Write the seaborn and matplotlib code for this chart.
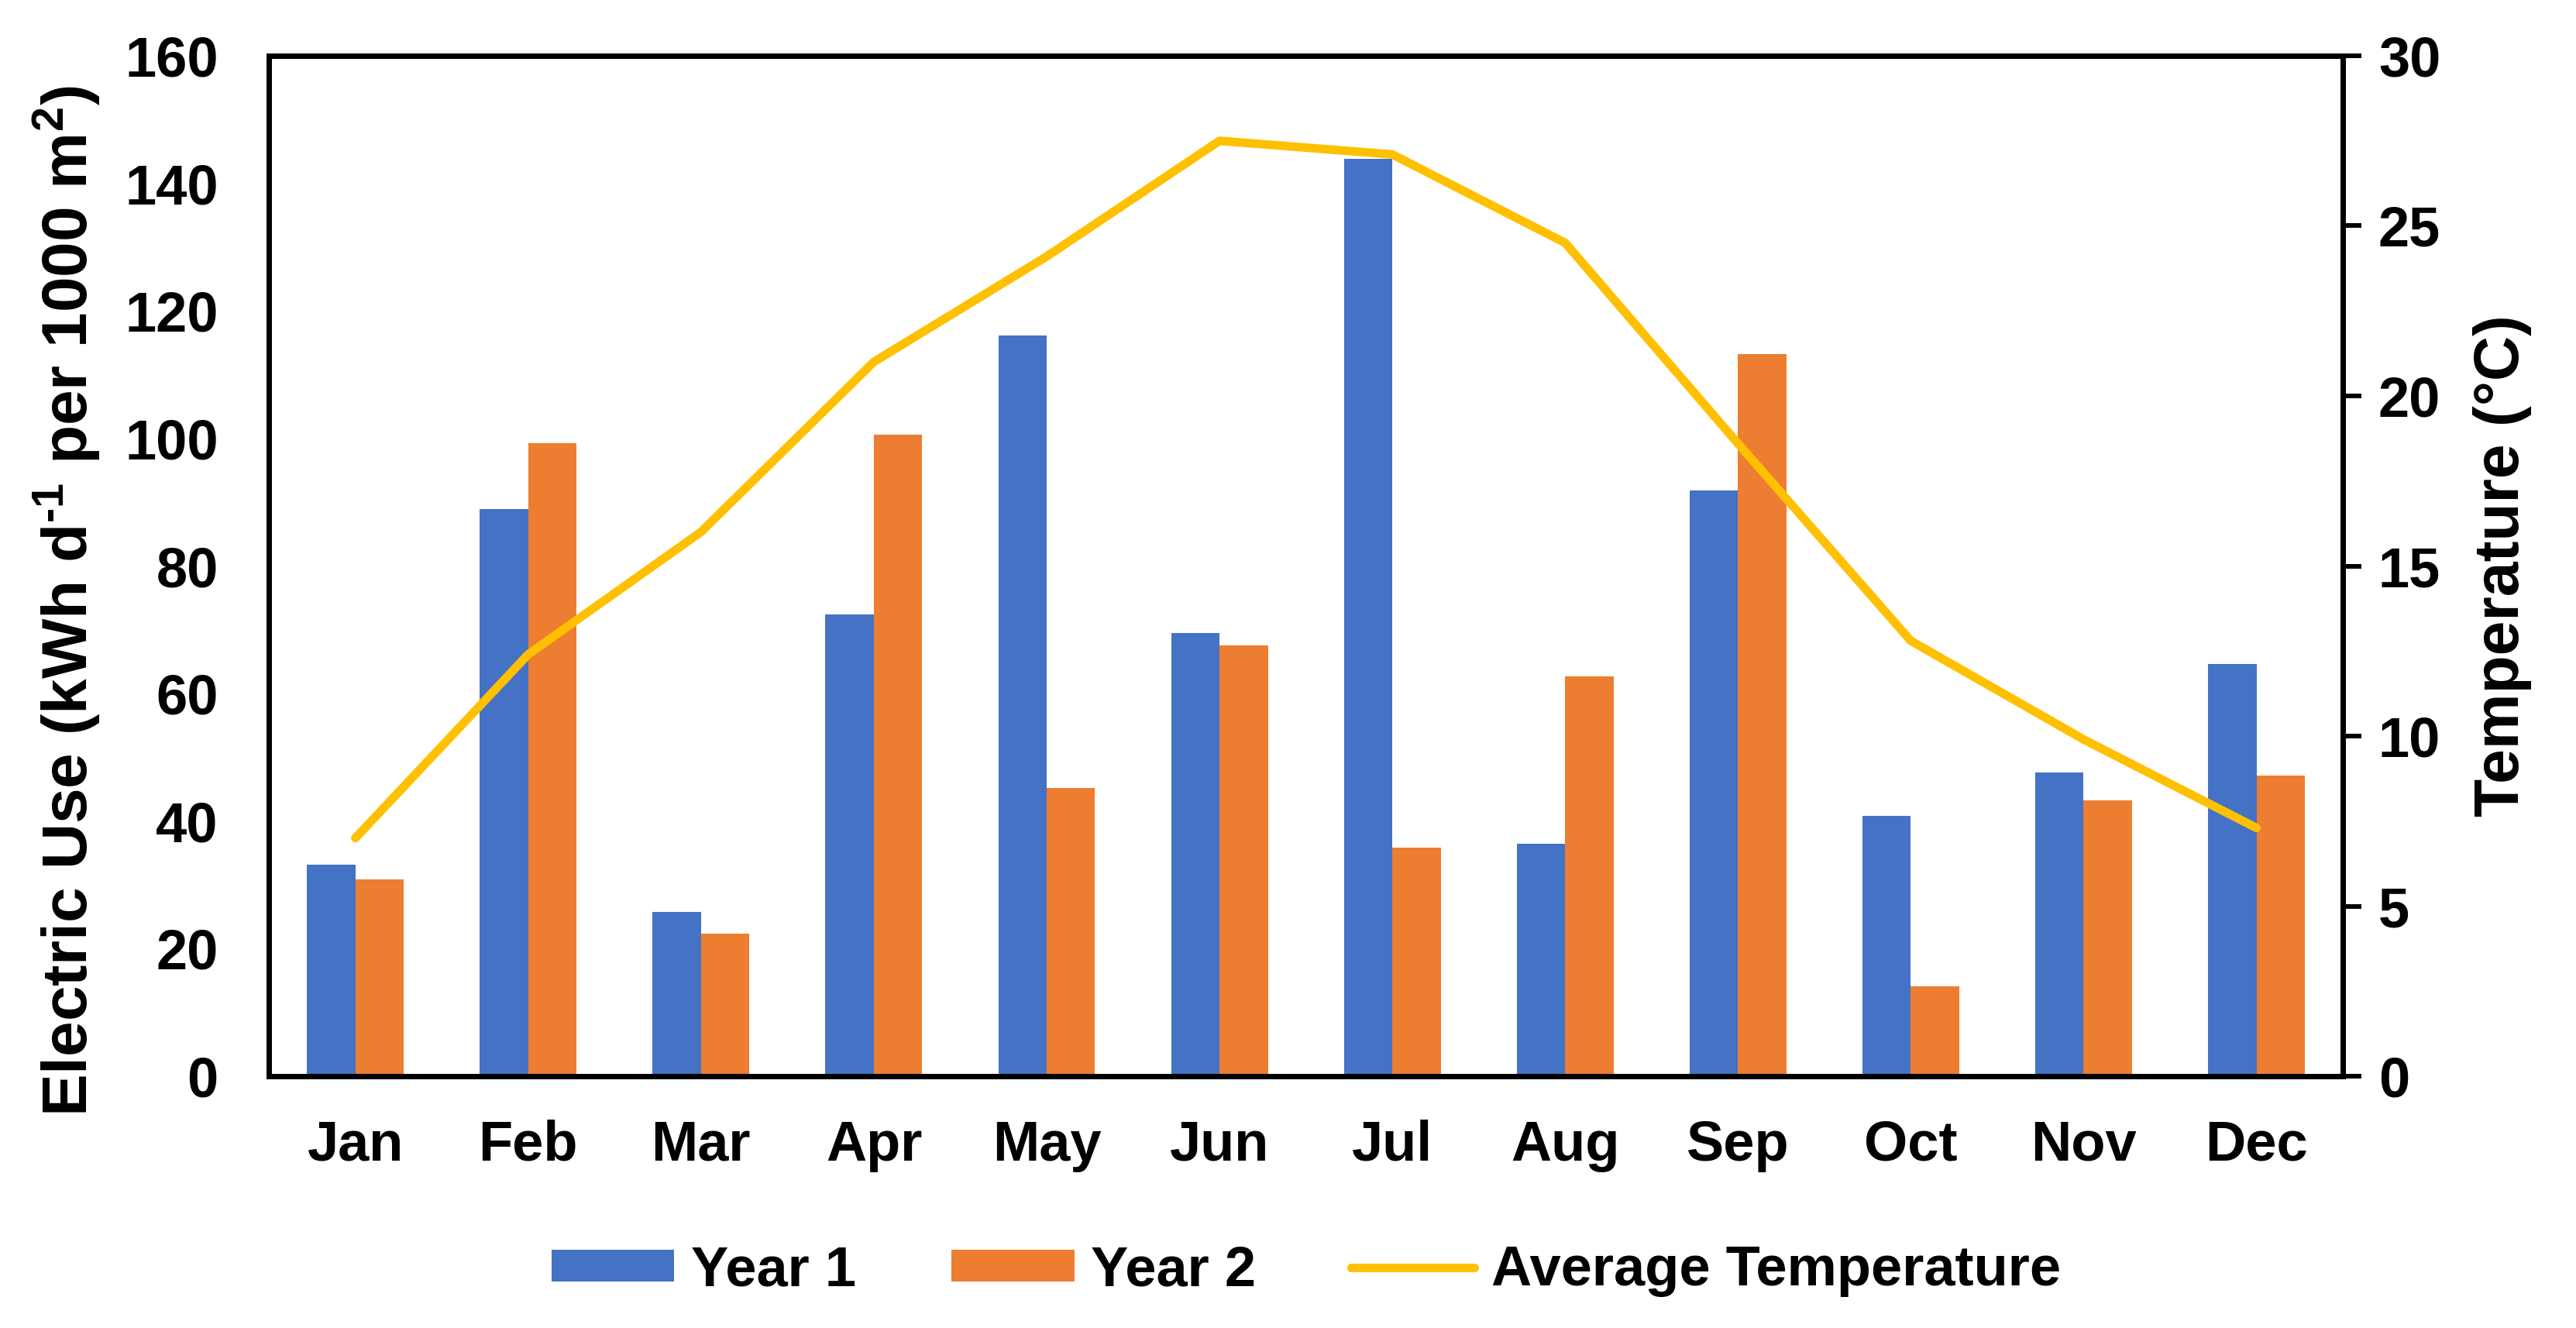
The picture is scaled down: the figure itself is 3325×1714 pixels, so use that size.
import numpy as np
import pandas as pd
import matplotlib
matplotlib.use("Agg")
import matplotlib.pyplot as plt
import seaborn as sns

months = ["Jan", "Feb", "Mar", "Apr", "May", "Jun",
          "Jul", "Aug", "Sep", "Oct", "Nov", "Dec"]
year1 = [33.2, 88.9, 25.7, 72.4, 116.2, 69.5, 143.9, 36.4, 91.8, 40.8, 47.6, 64.6]
year2 = [30.8, 99.2, 22.3, 100.6, 45.2, 67.6, 35.9, 62.7, 113.2, 14.1, 43.3, 47.1]
avg_temp = [7.0, 12.4, 16.0, 21.0, 24.1, 27.5, 27.1, 24.5, 18.6, 12.8, 9.9, 7.3]

BLUE = "#4472C4"
ORANGE = "#ED7D31"
GOLD = "#FFC000"


def main():
    sns.set_style("white")
    plt.rcParams["font.family"] = ["Liberation Sans", "DejaVu Sans"]
    plt.rcParams["font.weight"] = "bold"
    plt.rcParams["text.color"] = "black"
    plt.rcParams["axes.labelcolor"] = "black"
    plt.rcParams["xtick.color"] = "black"
    plt.rcParams["ytick.color"] = "black"
    plt.rcParams["mathtext.fontset"] = "custom"
    plt.rcParams["mathtext.rm"] = "Liberation Sans:bold"
    plt.rcParams["mathtext.bf"] = "Liberation Sans:bold"
    plt.rcParams["mathtext.default"] = "bf"

    # long-form table for the grouped bars
    df = pd.DataFrame({
        "month": months * 2,
        "value": year1 + year2,
        "year": ["Year 1"] * 12 + ["Year 2"] * 12,
    })

    fig = plt.figure(figsize=(33.25, 17.14), dpi=100)
    ax = fig.add_axes([0.1044, 0.1896, 0.8051, 0.7684])

    sns.barplot(data=df, x="month", y="value", hue="year", order=months,
                palette=[BLUE, ORANGE], width=0.56, saturation=1,
                linewidth=0, ax=ax)
    ax.set_ylim(0, 160)
    ax.set_yticks(np.arange(0, 161, 20))
    ax.set_xlim(-0.5, 11.5)
    ax.set_xlabel("")
    ax.set_ylabel(r"Electric Use (kWh d$^{\text{-1}}$ per 1000 m$^{2}$)",
                  fontsize=59, fontweight="bold")
    ax.yaxis.set_label_coords(-0.080, 0.466)
    ax.tick_params(axis="y", length=0, pad=47, labelsize=52)
    ax.tick_params(axis="x", length=0, pad=40, labelsize=52)
    for lab in ax.get_xticklabels() + ax.get_yticklabels():
        lab.set_fontweight("bold")

    # temperature on the secondary axis
    ax2 = ax.twinx()
    sns.lineplot(x=np.arange(len(months)), y=avg_temp, sort=False,
                 color=GOLD, linewidth=8, label="Average Temperature",
                 ax=ax2)
    ax2.set_ylim(0, 30)
    ax2.set_yticks(np.arange(0, 31, 5))
    ax2.set_ylabel("Temperature (°C)", fontsize=58, fontweight="bold",
                   labelpad=30)
    ax2.tick_params(axis="y", direction="out", length=17, width=4.3,
                    pad=16, labelsize=52, color="black")
    for lab in ax2.get_yticklabels():
        lab.set_fontweight("bold")

    for a in (ax, ax2):
        for side in a.spines.values():
            side.set_visible(True)
            side.set_color("black")
            side.set_linewidth(5)

    # one legend for bars and line, below the plot
    h1, l1 = ax.get_legend_handles_labels()
    h2, l2 = ax2.get_legend_handles_labels()
    ax.get_legend().remove()
    ax2.get_legend().remove()
    fig.legend(h1 + h2, l1 + l2, loc="center", ncol=3,
               bbox_to_anchor=(0.507, 0.043), frameon=False,
               prop={"size": 52, "weight": "bold"},
               handlelength=2.2, handleheight=0.5,
               handletextpad=0.3, columnspacing=1.7)

    fig.savefig("out.png", dpi=100)


if __name__ == "__main__":
    main()
